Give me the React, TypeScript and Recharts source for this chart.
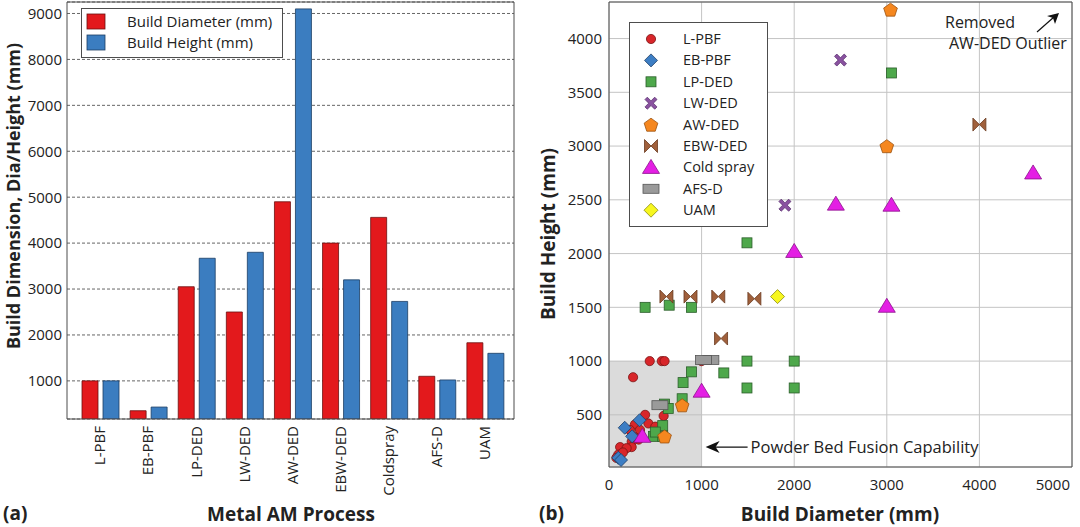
import React from 'react';
import {
  BarChart, Bar, XAxis, YAxis, CartesianGrid, Legend,
  ScatterChart, Scatter, ReferenceArea, ReferenceDot,
} from 'recharts';

const FONT = '"Open Sans", "DejaVu Sans", sans-serif';
const INK = '#222';
const FRAME = '#4d4d4d';

// (a) build envelope per process, mm
const processes = ['L-PBF', 'EB-PBF', 'LP-DED', 'LW-DED', 'AW-DED', 'EBW-DED', 'Coldspray', 'AFS-D', 'UAM'];
const buildDiameter = [1000, 350, 3050, 2500, 4900, 4000, 4560, 1100, 1830];
const buildHeight = [1000, 430, 3670, 3800, 9100, 3200, 2730, 1020, 1600];
const barTicks = [1000, 2000, 3000, 4000, 5000, 6000, 7000, 8000, 9000];

// (b) individual machines, [diameter, height] mm
const lpbf = [
  [440, 1000], [570, 1000], [600, 1000], [1000, 1000], [260, 850], [390, 500], [590, 490],
  [280, 410], [425, 420], [500, 390], [225, 360], [335, 360], [265, 300], [320, 270],
  [245, 250], [245, 200], [120, 200], [190, 190], [100, 130], [80, 100], [150, 150],
];
const ebpbf = [[170, 380], [330, 450], [100, 100], [130, 80], [250, 300]];
const lpded = [
  [390, 1500], [650, 1520], [890, 1500], [1490, 2100], [3050, 3680], [1490, 1000], [2000, 1000],
  [1240, 890], [1490, 750], [2000, 750], [890, 900], [800, 800], [790, 650], [600, 600],
  [640, 560], [580, 400], [480, 300], [580, 300], [500, 340],
];
const lwded = [[1900, 2450], [2500, 3800]];
const awded = [[3040, 4270], [3000, 3000], [790, 590], [600, 300]];
const ebwded = [[620, 1600], [880, 1600], [1180, 1600], [1570, 1580], [1210, 1210], [4000, 3200]];
const coldSpray = [[4580, 2750], [2450, 2460], [3050, 2450], [2000, 2020], [3000, 1510], [1000, 720], [360, 300]];
const afsd = [[1100, 1010], [1020, 1010], [550, 590]];
const uam = [[1820, 1600]];
const diaTicks = [0, 1000, 2000, 3000, 4000, 5000];
const heightTicks = [500, 1000, 1500, 2000, 2500, 3000, 3500, 4000];

const steps = (from: number, to: number, step: number) => {
  const out: number[] = [];
  for (let v = from; v <= to; v += step) out.push(v);
  return out;
};

const barData = processes.map((p, i) => ({ process: p, diameter: buildDiameter[i], height: buildHeight[i] }));
const toPts = (arr: number[][]) => arr.map(([x, y]) => ({ x, y }));

const series = [
  { name: 'L-PBF', kind: 'circle', data: lpbf },
  { name: 'EB-PBF', kind: 'diamond', data: ebpbf },
  { name: 'LP-DED', kind: 'square', data: lpded },
  { name: 'LW-DED', kind: 'cross', data: lwded },
  { name: 'AW-DED', kind: 'pentagon', data: awded },
  { name: 'EBW-DED', kind: 'bowtie', data: ebwded },
  { name: 'Cold spray', kind: 'triangle', data: coldSpray },
  { name: 'AFS-D', kind: 'rect', data: afsd },
  { name: 'UAM', kind: 'uam', data: uam },
];

const Marker = ({ kind, cx, cy }: { kind: string; cx: number; cy: number }) => {
  if (cx == null || cy == null) return null;
  const sw = 0.8;
  switch (kind) {
    case 'circle':
      return <circle cx={cx} cy={cy} r={4.6} fill="#d8262a" stroke="#7a1414" strokeWidth={sw} />;
    case 'diamond': {
      const s = 6.5;
      return <polygon points={`${cx},${cy - s} ${cx + s},${cy} ${cx},${cy + s} ${cx - s},${cy}`} fill="#3d7ec4" stroke="#1f3f66" strokeWidth={sw} />;
    }
    case 'square':
      return <rect x={cx - 5} y={cy - 5} width={10} height={10} fill="#4ea84b" stroke="#2b5e2a" strokeWidth={sw} />;
    case 'cross': {
      const s = 6, w = 2.3;
      const p = [[-s, -s + w], [-s + w, -s], [0, -w], [s - w, -s], [s, -s + w], [w, 0], [s, s - w], [s - w, s], [0, w], [-s + w, s], [-s, s - w], [-w, 0]];
      return <polygon points={p.map(([a, b]) => `${cx + a},${cy + b}`).join(' ')} fill="#8a52a0" stroke="#5a3070" strokeWidth={sw} />;
    }
    case 'pentagon': {
      const r = 7.2;
      const p = [0, 1, 2, 3, 4].map((k) => {
        const a = -Math.PI / 2 + (k * 2 * Math.PI) / 5;
        return `${cx + r * Math.cos(a)},${cy + r * Math.sin(a) + 0.8}`;
      });
      return <polygon points={p.join(' ')} fill="#f5871f" stroke="#9a5210" strokeWidth={sw} />;
    }
    case 'bowtie': {
      const s = 6.5;
      return (
        <g fill="#a0603c" stroke="#6a3a20" strokeWidth={sw}>
          <polygon points={`${cx - s},${cy - s} ${cx},${cy} ${cx - s},${cy + s}`} />
          <polygon points={`${cx + s},${cy - s} ${cx},${cy} ${cx + s},${cy + s}`} />
        </g>
      );
    }
    case 'triangle':
      return <polygon points={`${cx},${cy - 8} ${cx + 8.5},${cy + 6} ${cx - 8.5},${cy + 6}`} fill="#e41fe4" stroke="#8a108a" strokeWidth={sw} />;
    case 'rect':
      return <rect x={cx - 8} y={cy - 4.5} width={16} height={9} fill="#9a9a9a" stroke="#555" strokeWidth={sw} />;
    case 'uam': {
      const s = 7;
      return <polygon points={`${cx},${cy - s} ${cx + s},${cy} ${cx},${cy + s} ${cx - s},${cy}`} fill="#f7f71f" stroke="#8a8a10" strokeWidth={sw} />;
    }
    default:
      return null;
  }
};

const ProcessTick = ({ x, y, payload }: any) => (
  <text x={x} y={y} transform={`rotate(-90 ${x} ${y})`} textAnchor="end" dy="0.35em" fontSize={15} fill={INK} fontFamily={FONT}>
    {payload.value}
  </text>
);

const DiaTick = ({ x, y, payload }: any) => {
  const last = payload.value === 5000;
  return (
    <text x={last ? x + 6 : x} y={y} dy="0.71em" textAnchor={last ? 'end' : 'middle'} fontSize={15} fill={INK} fontFamily={FONT}>
      {payload.value}
    </text>
  );
};

const BarLegend = () => (
  <svg width={203} height={51} style={{ display: 'block' }}>
    <rect x={0.5} y={0.5} width={201} height={49} fill="#fff" stroke={FRAME} />
    <rect x={6} y={6} width={18} height={15} fill="#e3191c" stroke="#6b1010" strokeWidth={0.8} />
    <rect x={6} y={27} width={18} height={15} fill="#3b7dc0" stroke="#1c3d63" strokeWidth={0.8} />
    <text x={46} y={14} dy="0.35em" fontSize={15} fill={INK} fontFamily={FONT}>Build Diameter (mm)</text>
    <text x={46} y={35} dy="0.35em" fontSize={15} fill={INK} fontFamily={FONT}>Build Height (mm)</text>
  </svg>
);

const ScatterLegend = () => (
  <svg width={140} height={206} style={{ display: 'block' }}>
    <rect x={0.5} y={0.5} width={138} height={204} fill="#fff" stroke={FRAME} />
    {series.map((s, i) => {
      const cy = 17 + i * 21.4;
      return (
        <g key={s.name}>
          <Marker kind={s.kind} cx={22} cy={cy} />
          <text x={54} y={cy} dy="0.35em" fontSize={14.5} fill={INK} fontFamily={FONT}>{s.name}</text>
        </g>
      );
    })}
  </svg>
);

const PbfNote = ({ cx, cy }: any) => (
  <g>
    <line x1={cx + 46} y1={cy} x2={cx + 10} y2={cy} stroke="#111" strokeWidth={1.2} />
    <polygon points={`${cx + 4},${cy} ${cx + 18},${cy - 6} ${cx + 14},${cy} ${cx + 18},${cy + 6}`} fill="#111" />
    <text x={cx + 49} y={cy} dy="0.35em" fontSize={16.5} fill={INK} fontFamily={FONT}>Powder Bed Fusion Capability</text>
  </g>
);

const OutlierNote = ({ cx, cy }: any) => (
  <g>
    <text x={cx - 127} y={cy + 20} dy="0.35em" fontSize={16} fill={INK} fontFamily={FONT}>Removed</text>
    <text x={cx - 123} y={cy + 41} dy="0.35em" fontSize={16} fill={INK} fontFamily={FONT}>AW-DED Outlier</text>
    <line x1={cx - 35} y1={cy + 30} x2={cx - 18} y2={cy + 15} stroke="#111" strokeWidth={1.2} />
    <polygon points={`${cx - 13},${cy + 11} ${cx - 17},${cy + 22} ${cx - 19},${cy + 16} ${cx - 25},${cy + 14}`} fill="#111" />
  </g>
);

const minorBar = steps(500, 9000, 500);
const minorDia = steps(0, 5000, 200);
const minorHeight = steps(250, 4250, 250);

export default function App() {
  return (
    <div style={{ position: 'absolute', left: 0, top: 0, width: 1080, height: 527, background: '#fff', overflow: 'hidden', fontFamily: FONT }}>
      <div style={{ position: 'absolute', left: 0, top: 0 }}>
        <BarChart width={530} height={527} data={barData} margin={{ top: 2, right: 16, bottom: 28, left: 0 }} barSize={16} barGap={5}>
          <CartesianGrid vertical={false} stroke="#666" strokeDasharray="3 2" />
          <XAxis dataKey="process" height={80} padding={{ left: 9, right: 5 }} tick={<ProcessTick />} tickLine={false} tickSize={0} tickMargin={7} axisLine={{ stroke: FRAME }} interval={0} />
          <XAxis xAxisId="top" dataKey="process" orientation="top" mirror padding={{ left: 9, right: 5 }} tick={false} tickLine={false} axisLine={{ stroke: FRAME }} />
          <XAxis xAxisId="bm" dataKey="process" mirror padding={{ left: 9, right: 5 }} tick={false} tickSize={5} tickLine={{ stroke: FRAME }} axisLine={false} interval={0} />
          <YAxis type="number" domain={[170, 9250]} allowDataOverflow ticks={barTicks} width={67} tickLine={false} tickSize={0} tickMargin={5} axisLine={{ stroke: FRAME }} tick={{ fontSize: 15, fill: INK, fontFamily: FONT }} />
          <YAxis yAxisId="lm" type="number" domain={[170, 9250]} allowDataOverflow ticks={minorBar} mirror tick={false} tickSize={5} tickLine={{ stroke: FRAME }} axisLine={false} />
          <YAxis yAxisId="rm" orientation="right" type="number" domain={[170, 9250]} allowDataOverflow ticks={minorBar} mirror tick={false} tickSize={5} tickLine={{ stroke: FRAME }} axisLine={{ stroke: FRAME }} />
          <Legend layout="vertical" align="center" verticalAlign="middle" wrapperStyle={{ left: 81, top: 8, width: 203, height: 51 }} content={() => <BarLegend />} />
          <Bar dataKey="diameter" name="Build Diameter (mm)" fill="#e3191c" stroke="#6b1010" strokeWidth={0.8} isAnimationActive={false} />
          <Bar dataKey="height" name="Build Height (mm)" fill="#3b7dc0" stroke="#1c3d63" strokeWidth={0.8} isAnimationActive={false} />
        </BarChart>
      </div>

      <div style={{ position: 'absolute', left: 530, top: 0 }}>
        <ScatterChart width={550} height={527} margin={{ top: 2, right: 8, bottom: 30, left: 0 }}>
          <CartesianGrid stroke="#c4c4c4" />
          <ReferenceArea x1={0} x2={1000} y1={15} y2={1000} fill="#bdbdbd" fillOpacity={0.55} stroke="none" />
          <XAxis type="number" dataKey="x" domain={[0, 5000]} allowDataOverflow ticks={diaTicks} height={30} tickLine={false} tickSize={0} tickMargin={12} axisLine={{ stroke: FRAME }} tick={<DiaTick />} />
          <XAxis xAxisId="tm" type="number" orientation="top" mirror domain={[0, 5000]} allowDataOverflow ticks={minorDia} tick={false} tickSize={5} tickLine={{ stroke: FRAME }} axisLine={{ stroke: FRAME }} />
          <XAxis xAxisId="bm" type="number" mirror domain={[0, 5000]} allowDataOverflow ticks={minorDia} tick={false} tickSize={5} tickLine={{ stroke: FRAME }} axisLine={false} />
          <YAxis type="number" dataKey="y" domain={[15, 4340]} allowDataOverflow ticks={heightTicks} width={79} tickLine={false} tickSize={0} tickMargin={7} axisLine={{ stroke: FRAME }} tick={{ fontSize: 15, fill: INK, fontFamily: FONT }} />
          <YAxis yAxisId="lm" type="number" mirror domain={[15, 4340]} allowDataOverflow ticks={minorHeight} tick={false} tickSize={5} tickLine={{ stroke: FRAME }} axisLine={false} />
          <YAxis yAxisId="rm" type="number" orientation="right" mirror domain={[15, 4340]} allowDataOverflow ticks={minorHeight} tick={false} tickSize={5} tickLine={{ stroke: FRAME }} axisLine={{ stroke: FRAME }} />
          {series.map((s) => (
            <Scatter key={s.name} name={s.name} data={toPts(s.data)} isAnimationActive={false}
              shape={(p: any) => <Marker kind={s.kind} cx={p.cx} cy={p.cy} />} />
          ))}
          <ReferenceDot x={1000} y={200} ifOverflow="visible" shape={(p: any) => <PbfNote cx={p.cx} cy={p.cy} />} />
          <ReferenceDot x={5000} y={4340} ifOverflow="visible" shape={(p: any) => <OutlierNote cx={p.cx} cy={p.cy} />} />
          <Legend layout="vertical" align="center" verticalAlign="middle" wrapperStyle={{ left: 99, top: 22, width: 140, height: 206 }} content={() => <ScatterLegend />} />
        </ScatterChart>
      </div>

      <svg width={1080} height={527} style={{ position: 'absolute', left: 0, top: 0, pointerEvents: 'none' }} fontFamily={FONT}>
        <text transform="translate(14 196) rotate(-90)" textAnchor="middle" dy="0.35em" fontSize={18} fontWeight="bold" fill={INK}>
          Build Dimension, Dia/Height (mm)
        </text>
        <text x={291} y={521} textAnchor="middle" fontSize={19} fontWeight="bold" fill={INK}>Metal AM Process</text>
        <text x={3} y={520} fontSize={19} fontWeight="bold" fill={INK}>(a)</text>
        <text transform="translate(548 234) rotate(-90)" textAnchor="middle" dy="0.35em" fontSize={19} fontWeight="bold" fill={INK}>
          Build Height (mm)
        </text>
        <text x={840} y={521} textAnchor="middle" fontSize={19} fontWeight="bold" fill={INK}>Build Diameter (mm)</text>
        <text x={539} y={520} fontSize={19} fontWeight="bold" fill={INK}>(b)</text>
      </svg>
    </div>
  );
}
